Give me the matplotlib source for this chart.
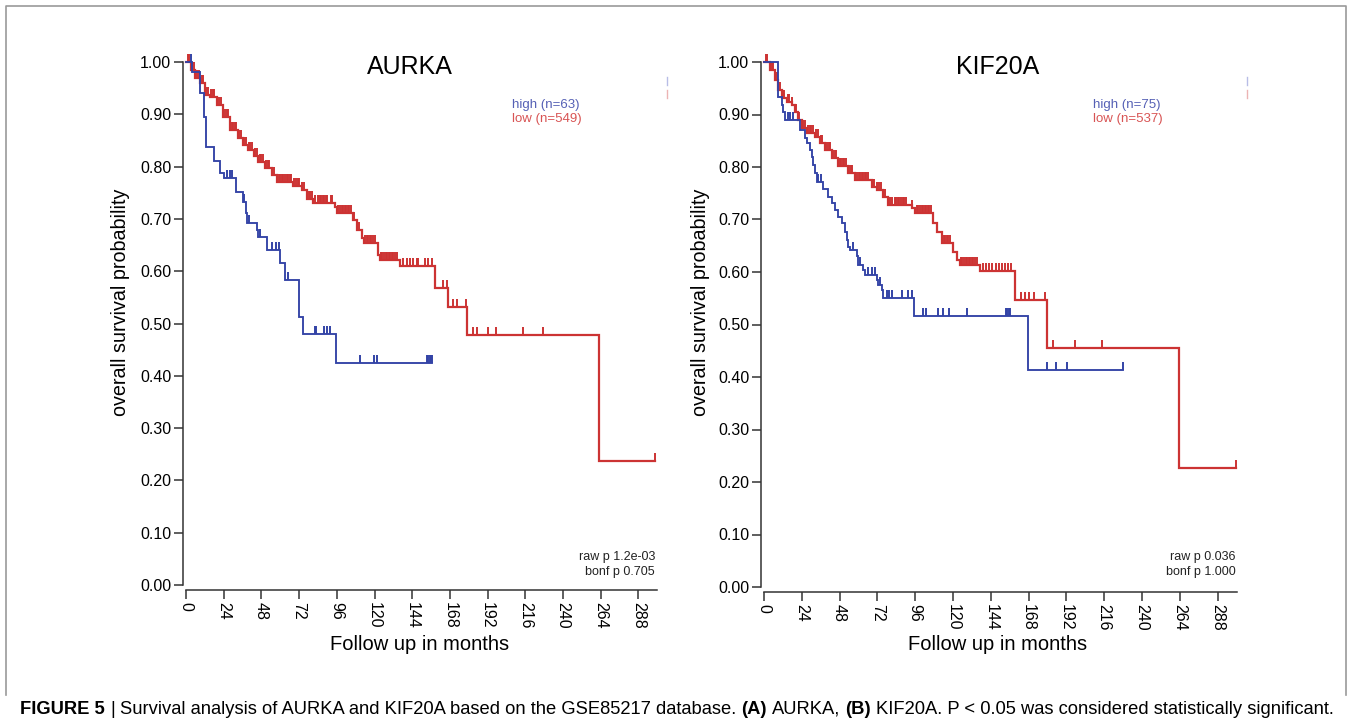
import matplotlib
matplotlib.use("Agg")
import matplotlib.pyplot as plt
import numpy as np
from matplotlib.lines import Line2D

plt.rcParams['font.family'] = ['Liberation Sans', 'DejaVu Sans']

W, H = 1352, 724

# AURKA, high expression (blue)
aurka_high_t = [0, 4, 9, 11.5, 13, 18, 21.5, 24, 32, 36, 38, 39, 45, 46,
                51.4, 60, 63, 71.9, 74.7, 95.3]
aurka_high_s = [1.0, 0.98, 0.94, 0.895, 0.838, 0.81, 0.787, 0.778, 0.752,
                0.733, 0.711, 0.692, 0.679, 0.666, 0.64, 0.616, 0.583, 0.513,
                0.479, 0.425]
aurka_high_end = 156.4
aurka_high_cens = [3, 26, 28, 29, 37, 40, 47, 55, 57, 59, 65, 82, 83, 88,
                   89.6, 91.7, 110.8, 119.9, 121.8, 153.4, 154.2, 155, 155.7,
                   156.4]

# AURKA, low expression (red)
aurka_low_t = [0, 3, 6, 9, 12, 15, 19.5, 23.7, 28, 33, 36.5, 39.5, 43, 46,
               50, 54.5, 57.7, 68, 73.6, 76.8, 81, 95, 96, 106.5, 108.6,
               111.8, 113, 122.4, 123.5, 136, 158.5, 167, 178.7, 263]
aurka_low_s = [1.0, 0.985, 0.97, 0.96, 0.937, 0.934, 0.918, 0.895, 0.87,
               0.855, 0.841, 0.832, 0.82, 0.809, 0.797, 0.784, 0.771, 0.762,
               0.755, 0.739, 0.73, 0.723, 0.711, 0.698, 0.679, 0.663, 0.653,
               0.631, 0.621, 0.609, 0.567, 0.532, 0.478, 0.237]
aurka_low_end = 298.5
aurka_low_cens = [1, 2, 4, 5, 7, 8, 10, 11, 13, 14, 16, 17, 18, 20, 21, 22,
                  25, 26, 27, 29, 30, 31, 32, 34, 35, 37, 38, 40, 41, 42, 44,
                  45, 47, 48, 49, 51, 52, 53, 55, 56, 58, 59, 60, 61, 62, 63,
                  64, 65, 66, 67, 69, 70, 71, 72, 74, 75, 78, 79, 80, 82, 84,
                  85, 86, 87, 88, 89, 90, 92, 93, 97, 98, 99, 100, 101, 102,
                  103, 104, 105, 107, 110, 114, 115, 116, 117, 118, 119, 120,
                  124, 125, 126, 127, 128, 129, 130, 131, 132, 133, 134, 138,
                  140.5, 142.6, 144.7, 146.8, 147.8, 152.1, 154.2, 156.4,
                  163.4, 166, 170, 172.3, 178, 182.9, 185, 192.5, 197.3,
                  214.3, 227.5, 298.5]

# KIF20A, high expression (blue)
kif_high_t = [0, 9.1, 11.2, 12.3, 13.3, 23, 26, 27, 29, 30.3, 31.3, 32.4,
              33.5, 37.7, 40.8, 43, 45, 47.2, 49.3, 51.4, 52.5, 53.5, 54.6,
              58.8, 59.9, 63, 64.1, 71.5, 72.6, 74.7, 75.8, 95.2, 167.8]
kif_high_s = [1.0, 0.934, 0.918, 0.905, 0.89, 0.87, 0.855, 0.845, 0.832,
              0.82, 0.804, 0.788, 0.772, 0.759, 0.743, 0.731, 0.718, 0.705,
              0.693, 0.677, 0.661, 0.648, 0.642, 0.63, 0.613, 0.604, 0.594,
              0.585, 0.575, 0.566, 0.55, 0.517, 0.413]
kif_high_end = 228.1
kif_high_cens = [15, 16.5, 18.5, 34.5, 36, 56.5, 61, 66.2, 68.4, 70.5, 73.5,
                 78, 79.5, 81, 87.4, 91.6, 93.8, 101.2, 102.9, 110.7, 113.8,
                 117.7, 128.7, 153.7, 154.5, 155.3, 156.2, 179.5, 185.4,
                 192.6, 228.1]

# KIF20A, low expression (red)
kif_low_t = [0, 3.8, 7, 9, 11.2, 14.4, 17.6, 19.7, 21.8, 23.9, 27.1, 32.4,
             35.6, 38.7, 43, 47.2, 53.5, 57.8, 68.4, 71.5, 75.7, 78.9, 93.8,
             95.9, 107.5, 109.6, 112.8, 120.2, 122.3, 124.4, 137.1, 159.4,
             179.5, 263.7]
kif_low_s = [1.0, 0.985, 0.966, 0.947, 0.931, 0.924, 0.918, 0.905, 0.89,
             0.874, 0.864, 0.858, 0.845, 0.832, 0.817, 0.801, 0.788, 0.775,
             0.762, 0.756, 0.743, 0.728, 0.721, 0.712, 0.693, 0.677, 0.655,
             0.639, 0.623, 0.613, 0.601, 0.547, 0.456, 0.227]
kif_low_end = 299.7
kif_low_cens = [1, 2, 5, 6, 8, 10, 12, 13, 15, 16, 18, 20, 22, 25, 26, 28,
                29, 30, 31, 33, 34, 36, 37, 39, 40, 41, 42, 44, 45, 46, 48,
                49, 50, 51, 52, 54, 55, 56, 59, 60, 61, 62, 63, 64, 65, 66,
                69, 70, 72, 73, 74, 77, 80, 81, 83, 84, 85, 86, 87, 88, 89,
                90, 94, 97, 98, 99, 100, 101, 102, 103, 104, 105, 106, 110,
                113, 114, 115, 116, 117, 118, 125, 126, 127, 128, 129, 130,
                131, 132, 133, 134, 135, 139, 141, 143, 145, 147, 149, 151,
                153, 155, 157, 163.2, 165.7, 168.4, 171.4, 178.4, 183.7,
                197.6, 214.4, 299.7]

genes = ['AURKA', 'KIF20A']
n_high = [63, 75]
n_low = [549, 537]
raw_p = ['1.2e-03', '0.036']
bonf_p = ['0.705', '1.000']

BLUE = '#3343a6'
RED = '#cc3333'


def surv_at(t, s, times):
    idx = np.searchsorted(t, times, side='right') - 1
    return np.asarray(s)[idx]


def km(ax, t, s, end, cens, color, lw):
    tt = list(t) + [end]
    ss = list(s) + [s[-1]]
    ax.step(tt, ss, where='post', color=color, lw=lw,
            clip_on=False, solid_joinstyle='miter')
    ax.plot(cens, surv_at(t, s, cens), ls='none', marker=2, ms=5.5,
            mew=1.4, color=color, clip_on=False)


def px_rect(x0, x1, ytop, ybot):
    return [x0 / W, 1 - ybot / H, (x1 - x0) / W, (ybot - ytop) / H]


def ftext(x, y, s, **kw):
    return fig.text(x / W, 1 - y / H, s, **kw)


fig = plt.figure(figsize=(W / 100, H / 100), dpi=100)

panels = [
    dict(rect=px_rect(186, 657.3, 62, 585), curves=[
        (aurka_low_t, aurka_low_s, aurka_low_end, aurka_low_cens, RED, 1.6),
        (aurka_high_t, aurka_high_s, aurka_high_end, aurka_high_cens, BLUE, 1.35)],
        title_x=410, ylab_x=121, xlab_x=420, leg_x=512, p_x=655, mark_x=666.5),
    dict(rect=px_rect(764, 1236.5, 62, 587), curves=[
        (kif_low_t, kif_low_s, kif_low_end, kif_low_cens, RED, 1.6),
        (kif_high_t, kif_high_s, kif_high_end, kif_high_cens, BLUE, 1.35)],
        title_x=998, ylab_x=700, xlab_x=998, leg_x=1093, p_x=1236, mark_x=1246.5),
]

for i, p in enumerate(panels):
    ax = fig.add_axes(p['rect'])
    for t, s, end, cens, col, lw in p['curves']:
        km(ax, t, s, end, cens, col, lw)
    ax.set_xlim(0, 300)
    ax.set_ylim(0, 1)
    for side in ['top', 'right']:
        ax.spines[side].set_visible(False)
    ax.spines['left'].set_position(('outward', 2.2))
    ax.spines['bottom'].set_position(('outward', 3.4))
    ax.spines['left'].set_bounds(0, 1)
    ax.spines['bottom'].set_bounds(0, 300)
    for side in ['left', 'bottom']:
        ax.spines[side].set_color('#333333')
        ax.spines[side].set_linewidth(1.1)
    ax.set_xticks(np.arange(0, 289, 24))
    ax.set_xticklabels([str(v) for v in range(0, 289, 24)], rotation=-90)
    ax.set_yticks(np.arange(0, 1.01, 0.1))
    ax.set_yticklabels(['%.2f' % v for v in np.arange(0, 1.01, 0.1)])
    ax.tick_params(direction='out', length=6.5, width=1.1, color='#333333',
                   labelsize=11.5, pad=2)
    ax.patch.set_visible(False)

    ftext(p['title_x'], 67, genes[i], fontsize=18, ha='center', va='center')
    ftext(p['ylab_x'], 302, 'overall survival probability', fontsize=14.2,
          rotation=90, ha='center', va='center')
    ftext(p['xlab_x'], 644, 'Follow up in months', fontsize=14.5,
          ha='center', va='center')
    ftext(p['leg_x'], 105, 'high (n=%d)' % n_high[i], fontsize=9.5,
          color='#5560b5', ha='left', va='center')
    ftext(p['leg_x'], 119, 'low (n=%d)' % n_low[i], fontsize=9.5,
          color='#d85454', ha='left', va='center')
    ftext(p['p_x'], 557, 'raw p ' + raw_p[i], fontsize=9, ha='right',
          va='center', color='#222222')
    ftext(p['p_x'], 572, 'bonf p ' + bonf_p[i], fontsize=9, ha='right',
          va='center', color='#222222')
    mx = p['mark_x'] / W
    fig.add_artist(Line2D([mx, mx], [1 - 77 / H, 1 - 85 / H],
                          color='#b8bde6', lw=1))
    fig.add_artist(Line2D([mx, mx], [1 - 90 / H, 1 - 98 / H],
                          color='#ecb4b4', lw=1))

# outer frame of the figure panel
fig.add_artist(Line2D([6 / W, 6 / W, 1346 / W, 1346 / W],
                      [1 - 695 / H, 1 - 6 / H, 1 - 6 / H, 1 - 695 / H],
                      color='#9a9a9a', lw=1.2))

# caption with bold parts
caption = [('FIGURE 5', True), ('|', False),
           ('Survival analysis of AURKA and KIF20A based on the GSE85217 database.', False),
           ('(A)', True), ('AURKA,', False), ('(B)', True),
           ('KIF20A. P < 0.05 was considered statistically significant.', False)]
cap_family = ['Liberation Sans Narrow', 'Liberation Sans']
cap_size = 13
renderer = fig.canvas.get_renderer()


def text_w(s, bold):
    t = ftext(0, 0, s, fontsize=cap_size, family=cap_family,
              weight='bold' if bold else 'normal')
    w = t.get_window_extent(renderer).width
    t.remove()
    return w


space = text_w('a a', False) - text_w('aa', False)
total = sum(text_w(s, b) for s, b in caption) + space * (len(caption) - 1)
cap_size = cap_size * 1314 / total
space = text_w('a a', False) - text_w('aa', False)
x = 20
for s, b in caption:
    t = ftext(x, 709, s, fontsize=cap_size, family=cap_family,
              weight='bold' if b else 'normal', ha='left', va='center')
    x += t.get_window_extent(renderer).width + space

fig.savefig('out.png', dpi=100)
